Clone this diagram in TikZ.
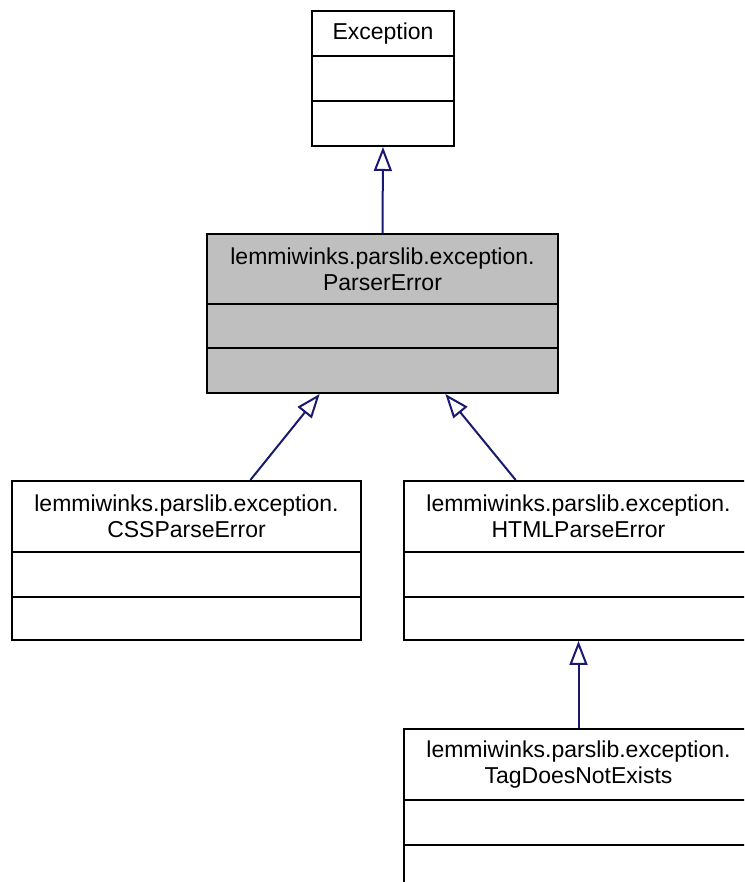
\documentclass[tikz,border=0pt]{standalone}
\usepackage{fontspec}
\setmainfont{Liberation Sans}
\usetikzlibrary{arrows.meta,calc}
\definecolor{edgeblue}{HTML}{191970}
\definecolor{boxgray}{HTML}{BFBFBF}
\tikzset{
  classbox/.style={draw=black, line width=2pt, rectangle, inner sep=0pt},
  classtitle/.style={align=center, font=\fontsize{23}{26}\selectfont, inner sep=0pt},
  divider/.style={draw=black, line width=2pt},
  inherit/.style={draw=edgeblue, line width=2pt, -{Triangle[open, length=24pt, width=18pt, line width=2pt]}}
}
\begin{document}
\begin{tikzpicture}[x=1pt,y=1pt]
\useasboundingbox (0,0) rectangle (744,882);
\clip (0,0) rectangle (744,882);
\fill[white] (0,0) rectangle (744,882);

% Exception
\node[classbox, fill=white, minimum width=142pt, minimum height=135pt] (exc) at (383,803.5) {};
\node[classtitle] (exct) at (383,848.5) {Exception};
\draw[divider] (exc.west |- 0,826) -- (exc.east |- 0,826);
\draw[divider] (exc.west |- 0,781) -- (exc.east |- 0,781);

% ParserError
\node[classbox, fill=boxgray, minimum width=351pt, minimum height=159pt] (par) at (382.5,568.5) {};
\node[classtitle] (part) at (382.5,613) {lemmiwinks.parslib.exception.\\ParserError};
\draw[divider] (par.west |- 0,578) -- (par.east |- 0,578);
\draw[divider] (par.west |- 0,534) -- (par.east |- 0,534);

% CSSParseError
\node[classbox, fill=white, minimum width=349pt, minimum height=159pt] (css) at (186.5,321.5) {};
\node[classtitle] (csst) at (186.5,365.5) {lemmiwinks.parslib.exception.\\CSSParseError};
\draw[divider] (css.west |- 0,330) -- (css.east |- 0,330);
\draw[divider] (css.west |- 0,285) -- (css.east |- 0,285);

% HTMLParseError
\node[classbox, fill=white, minimum width=349pt, minimum height=159pt] (html) at (578.5,321.5) {};
\node[classtitle] (htmlt) at (578.5,365.5) {lemmiwinks.parslib.exception.\\HTMLParseError};
\draw[divider] (html.west |- 0,330) -- (html.east |- 0,330);
\draw[divider] (html.west |- 0,285) -- (html.east |- 0,285);

% TagDoesNotExists
\node[classbox, fill=white, minimum width=349pt, minimum height=159pt] (tag) at (578.5,73.5) {};
\node[classtitle] (tagt) at (578.5,117.5) {lemmiwinks.parslib.exception.\\TagDoesNotExists};
\draw[divider] (tag.west |- 0,82) -- (tag.east |- 0,82);
\draw[divider] (tag.west |- 0,37) -- (tag.east |- 0,37);

% inheritance edges
\draw[inherit] (par.north) -- (exc.south);
\draw[inherit] ($(css.north west)!0.682!(css.north east)$) -- ($(par.south west)!0.322!(par.south east)$);
\draw[inherit] ($(html.north west)!0.321!(html.north east)$) -- ($(par.south west)!0.678!(par.south east)$);
\draw[inherit] (tag.north) -- (html.south);
\end{tikzpicture}
\end{document}
